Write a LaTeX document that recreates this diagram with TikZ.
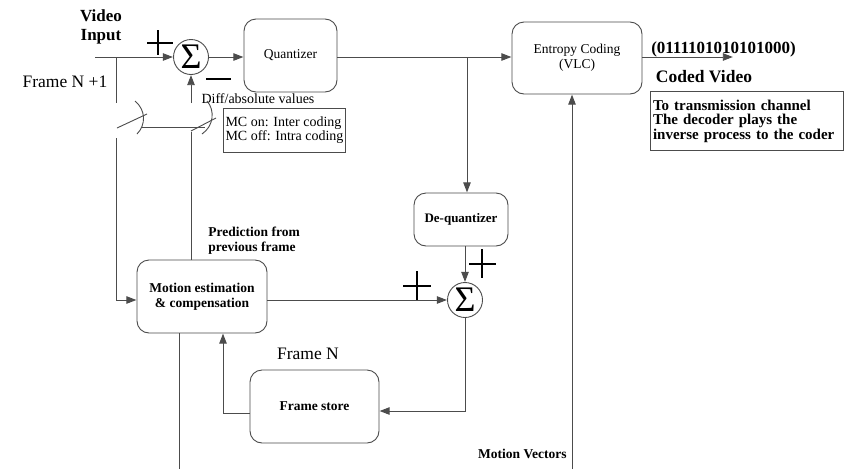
\documentclass[tikz,border=0pt]{standalone}
\usepackage{fontspec}
\setmainfont{Liberation Serif}
\usetikzlibrary{arrows.meta}
\begin{document}
\begin{tikzpicture}[x=1pt,y=-1pt,line width=0.9pt,
  ln/.style={draw=black!70},
  arr/.style={draw=black!70,-{Triangle[length=10pt,width=7.5pt]},shorten >=0.2pt},
  blk/.style={draw=black!70,rounded corners=12pt,align=center,inner sep=0pt,font=\fontsize{13.5}{15}\selectfont},
  bblk/.style={blk,font=\bfseries\fontsize{13.5}{15}\selectfont},
  sumnode/.style={circle,draw=black!70,minimum size=35pt,inner sep=0pt,font=\fontsize{36}{36}\selectfont},
  sign/.style={draw=black,line width=1.8pt},
  big/.style={font=\fontsize{17.5}{19}\selectfont,inner sep=0pt},
  small/.style={font=\fontsize{14}{14}\selectfont,inner sep=0pt},
  smallb/.style={font=\bfseries\fontsize{13.5}{15}\selectfont,inner sep=0pt,align=left},
]
\useasboundingbox (0,0) rectangle (856,469);
\fill[white] (0,0) rectangle (856,469);

% blocks
\node[blk,minimum width=93pt,minimum height=73pt] (quant) at (290.5,55.5) {Quantizer};
\node[sumnode] (sum1) at (191,57) {Σ};
\node[blk,minimum width=130pt,minimum height=72pt] (entropy) at (577,58) {Entropy Coding\\(VLC)};
\node[bblk,font=\bfseries\fontsize{13}{15}\selectfont,minimum width=94pt,minimum height=53pt] (dequant) at (461,219.5) {De-quantizer};
\node[sumnode] (sum2) at (465,300) {Σ};
\node[bblk,minimum width=130pt,minimum height=73pt] (me) at (202,296.5) {Motion estimation\\\& compensation};
\node[bblk,minimum width=129pt,minimum height=73pt] (fs) at (314.5,406.5) {Frame store};

% boxed notes
\node[draw=black!70,align=left,font=\fontsize{14}{14}\selectfont,inner xsep=2pt,inner ysep=0pt,minimum height=44pt] (mc) at (284.5,130) {MC on: Inter coding\\MC off: Intra coding};
\node[draw=black!70,align=left,text width=187pt,font=\bfseries\fontsize{15}{14.5}\selectfont,inner xsep=3pt,inner ysep=0pt,minimum height=59pt] (note) at (746.5,121) {To transmission channel\\The decoder plays the\\inverse process to the coder};

% labels
\node[big,font=\bfseries\fontsize{17}{19}\selectfont,align=center] (vidin) at (101,27) {Video\\Input};
\node[big] (fn1) at (65,82) {Frame N +1};
\node[small] (diff) at (258,99) {Diff/absolute values};
\node[smallb,anchor=west] (pred) at (208,240.5) {Prediction from\\previous frame};
\node[big] (fn) at (308,354) {Frame N};
\node[big,font=\bfseries\fontsize{17}{19}\selectfont] (bits) at (723.5,49) {(0111101010101000)};
\node[big,font=\bfseries\fontsize{17.5}{19}\selectfont] (coded) at (704,77) {Coded Video};
\node[smallb,anchor=east] (mvl) at (567,454) {Motion Vectors};

% coordinates
\coordinate (vin) at (95,57);
\coordinate (br) at (467,57);
\coordinate (out) at (733,57);
\coordinate (mebot) at (179,469);
\coordinate (mv) at (572,469);
\coordinate (swL) at (116,103);
\coordinate (swLb) at (116,138);
\coordinate (swR) at (191,103);
\coordinate (swRb) at (191,132);

% connectors
\draw[arr] (vin) -- (sum1.west);
\draw[arr] (sum1.east) -- (sum1.east -| quant.west);
\draw[arr] (quant.east |- sum1.east) -- (entropy.west |- sum1.east);
\draw[arr] (entropy.east |- out) -- (out);
\draw[arr] (br) -- (br |- dequant.north);
\draw[arr] (dequant.south -| sum2) -- (sum2.north);
\draw[arr] (me.east |- sum2) -- (sum2.west);
\draw[arr] (sum2.south) |- ([yshift=-4.5pt]fs.east);
\draw[arr] ([yshift=-6.5pt]fs.west) -| ([xshift=21pt]me.south);
\draw[ln] ([xshift=-23pt]me.south) -- (mebot);
\draw[arr] (mv) -- (mv |- entropy.south);

% switch and feed lines
\draw[ln] (vin -| swL) -- (swL);
\draw[arr] (swLb) |- (me.west |- sum2);
\draw[arr] (swR) -- (sum1.south);
\draw[ln] (swRb) -- (swRb |- me.north);
\draw[ln] (117,128) -- (147,114);
\draw[ln] (135,101) .. controls (146,110) and (146,125) .. (137,134);
\draw[ln] (142,127) -- (205,127);
\draw[ln] (191,131) -- (216,118);
\draw[ln] (207,101) .. controls (215,110) and (214,126) .. (202,134);

% signs
\draw[sign] (147,43) -- (173,43) (158,30) -- (158,55);
\draw[sign] (206,79) -- (231,79);
\draw[sign] (403,286) -- (431,286) (417,271) -- (417,300);
\draw[sign] (469,264) -- (496,264) (482,249) -- (482,278);
\end{tikzpicture}
\end{document}
